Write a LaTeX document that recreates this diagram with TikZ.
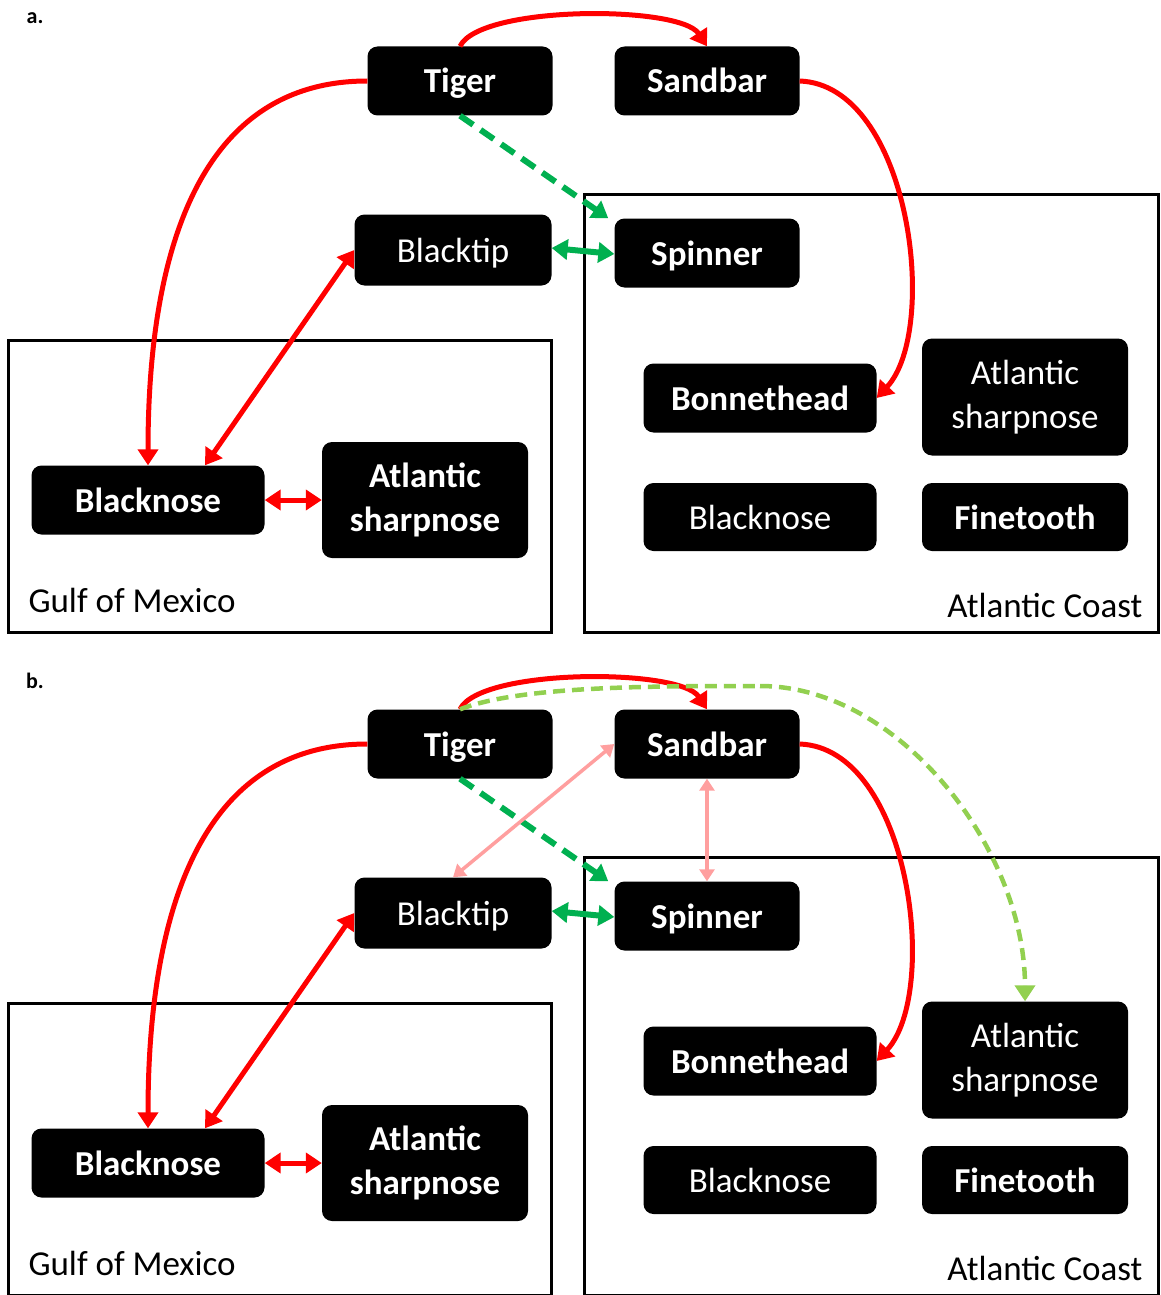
\documentclass[tikz,border=0pt]{standalone}
\usepackage{fontspec}
\setmainfont{Carlito}
\usetikzlibrary{arrows.meta}

\definecolor{dkgreen}{HTML}{00B050}
\definecolor{ltgreen}{HTML}{92D050}
\definecolor{salmon}{HTML}{FF9F9F}

\tikzset{
  >={Triangle[length=16pt,width=20pt]},
  shark/.style={fill=black, text=white, rounded corners=10pt, inner sep=0pt,
    align=center, font=\fontsize{35}{44}\selectfont},
  sharkb/.style={shark, font=\fontsize{35}{44}\selectfont\bfseries},
  oneline/.style={text height=25pt, text depth=1pt},
  region/.style={draw=black, line width=3pt},
  redlink/.style={draw=red, line width=5pt},
  greenlink/.style={draw=dkgreen, line width=6pt},
  greendash/.style={draw=dkgreen, line width=6pt, dash pattern=on 16pt off 9pt},
  limedash/.style={draw=ltgreen, line width=4.5pt, dash pattern=on 12pt off 7pt},
  pinklink/.style={draw=salmon, line width=3.5pt, >={Triangle[length=12pt,width=15pt]}}
}

\begin{document}
\begin{tikzpicture}[x=1pt, y=-1pt]
    \useasboundingbox (0,0) rectangle (1160,1295);

    \foreach \p/\dy in {a/0,b/663}{
        % regions
        \draw[region] (8,340+\dy) rectangle (551,632+\dy);
        \draw[region] (584,194+\dy) rectangle (1158,632+\dy);
        \node[anchor=west, font=\fontsize{35}{44}\selectfont] (\p Gulf) at (25,600+\dy) {Gulf of Mexico};
        \node[anchor=east, font=\fontsize{35}{44}\selectfont] (\p Coast) at (1146,605+\dy) {Atlantic Coast};
        \node[font=\fontsize{22}{26}\selectfont\bfseries] (\p Lbl) at (35,18+\dy) {\p.};

        % species
        \node[sharkb, oneline, minimum width=185pt, minimum height=69pt] (\p Tiger) at (460,81+\dy) {Tiger};
        \node[sharkb, oneline, minimum width=185pt, minimum height=69pt] (\p Sandbar) at (707,81+\dy) {Sandbar};
        \node[shark, oneline, minimum width=197pt, minimum height=71pt] (\p Blacktip) at (453,250+\dy) {Blacktip};
        \node[sharkb, oneline, minimum width=185pt, minimum height=69pt] (\p Spinner) at (707,253+\dy) {Spinner};
        \node[sharkb, oneline, minimum width=233pt, minimum height=69pt] (\p BnG) at (148,500+\dy) {Blacknose};
        \node[sharkb, minimum width=206pt, minimum height=116pt] (\p AsG) at (425,500+\dy) {Atlantic\\sharpnose};
        \node[sharkb, oneline, minimum width=233pt, minimum height=69pt] (\p Bonnet) at (760,398+\dy) {Bonnethead};
        \node[shark, minimum width=206pt, minimum height=117pt] (\p AsA) at (1025,397+\dy) {Atlantic\\sharpnose};
        \node[shark, oneline, minimum width=233pt, minimum height=68pt] (\p BnA) at (760,517+\dy) {Blacknose};
        \node[sharkb, oneline, minimum width=206pt, minimum height=68pt] (\p Fine) at (1025,517+\dy) {Finetooth};

        % links
        \draw[redlink, ->] (\p Tiger.north) .. controls (480,5+\dy) and (680,5+\dy) .. (\p Sandbar.north);
        \draw[redlink, ->] (\p Tiger.west) .. controls (200,81+\dy) and (148,250+\dy) .. (\p BnG.north);
        \draw[redlink, ->] (\p Sandbar.east) .. controls (910,85+\dy) and (940,330+\dy) .. (\p Bonnet.east);
        \draw[redlink, <->] (\p Blacktip.west) -- ([xshift=57pt]\p BnG.north);
        \draw[redlink, <->] (\p BnG.east) -- (\p AsG.west);
        \draw[greendash, ->] (\p Tiger.south) -- ([xshift=-6pt]\p Spinner.north west);
        \draw[greenlink, <->] ([yshift=2pt]\p Blacktip.east) -- ([yshift=-1pt]\p Spinner.west);
    }

    % extra links in b
    \coordinate (bTop) at (760,686);
    \draw[limedash] (bTiger.north) .. controls (520,686) and (650,686) .. (bTop);
    \draw[limedash, ->] (bTop) .. controls (900,686) and (1025,850) .. (bAsA.north);
    \draw[pinklink, <->] (bSandbar.west) -- (bBlacktip.north);
    \draw[pinklink, <->] (bSandbar.south) -- (bSpinner.north);
\end{tikzpicture}
\end{document}
